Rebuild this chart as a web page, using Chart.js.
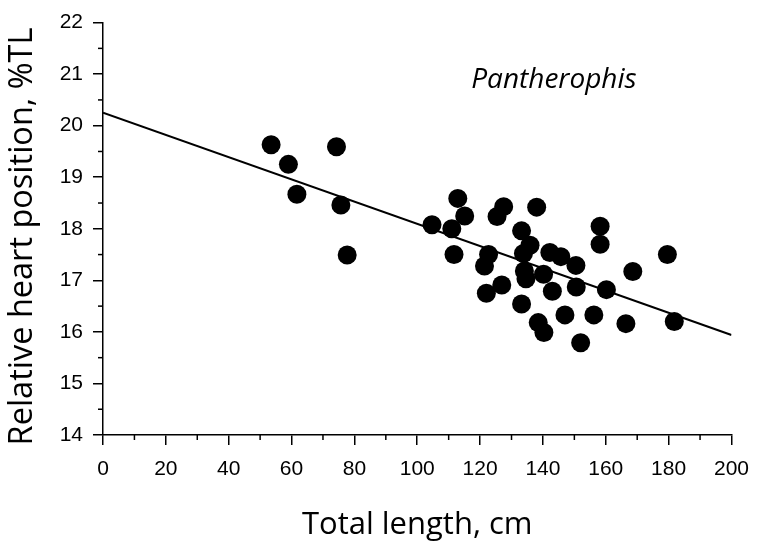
<!DOCTYPE html>
<html>
<head>
<meta charset="utf-8">
<script src="https://cdn.jsdelivr.net/npm/chart.js@4.4.1/dist/chart.umd.min.js"></script>
<style>
  html, body { margin: 0; padding: 0; background: #fff; }
  #grafico { display: block; }
</style>
</head>
<body>
<canvas id="grafico" width="761" height="551"></canvas>
<script>
// Dados (comprimento total em cm, posição relativa do coração em %TL)
const lengthCm = [
  53.5, 59.0, 61.7, 74.3, 75.7, 77.7,
  104.7, 111.0, 111.7, 112.9, 115.1, 121.4, 122.0, 122.7, 125.4, 127.5,
  126.9, 133.2, 133.2, 133.8, 134.1, 134.6, 135.9, 138.0, 138.5, 140.3,
  140.2, 142.2, 143.0, 145.7, 147.0, 150.5, 150.6, 152.0, 156.2, 158.2,
  158.2, 160.2, 166.4, 168.6, 179.6, 181.8
];
const heartPos = [
  19.63, 19.25, 18.67, 19.59, 18.46, 17.49,
  18.08, 18.00, 17.50, 18.59, 18.25, 17.28, 16.75, 17.50, 18.24, 18.43,
  16.91, 17.96, 16.54, 17.52, 17.18, 17.03, 17.68, 18.42, 16.18, 15.99,
  17.12, 17.54, 16.79, 17.46, 16.33, 17.29, 16.87, 15.79, 16.33, 18.05,
  17.70, 16.82, 16.16, 17.17, 17.50, 16.20
];

// Reta de regressão (extremos)
const fitX = [0, 200];
const fitY = [20.25, 15.94];

// Rótulos e limites dos eixos
const xTicks = [0, 20, 40, 60, 80, 100, 120, 140, 160, 180, 200];
const yTicks = [14, 15, 16, 17, 18, 19, 20, 21, 22];
const speciesLabel = 'Pantherophis';
const yTitle = 'Relative heart position, %TL';
const xTitle = 'Total length, cm';

const tickFont = { family: '"Liberation Sans", Arial, sans-serif', size: 21 };
const titleFont = { family: '"Open Sans", sans-serif', size: 31 };

// Desenha os traços menores entre os traços principais
const minorTicks = {
  id: 'minorTicks',
  afterDraw(chart) {
    const ctx = chart.ctx;
    ctx.save();
    ctx.strokeStyle = '#000';
    ctx.lineWidth = 1.5;
    const xs = chart.scales.x;
    for (let i = 0; i < xs.ticks.length - 1; i++) {
      const px = xs.getPixelForValue((xs.ticks[i].value + xs.ticks[i + 1].value) / 2);
      ctx.beginPath();
      ctx.moveTo(px, xs.top);
      ctx.lineTo(px, xs.top + 5);
      ctx.stroke();
    }
    const ys = chart.scales.y;
    for (let i = 0; i < ys.ticks.length - 1; i++) {
      const py = ys.getPixelForValue((ys.ticks[i].value + ys.ticks[i + 1].value) / 2);
      ctx.beginPath();
      ctx.moveTo(ys.right, py);
      ctx.lineTo(ys.right - 5, py);
      ctx.stroke();
    }
    ctx.restore();
  }
};

// Título do eixo Y e nome da espécie
const extraText = {
  id: 'extraText',
  afterDraw(chart) {
    const ctx = chart.ctx;
    ctx.save();
    ctx.fillStyle = '#000';
    ctx.textAlign = 'center';

    ctx.save();
    ctx.translate(23, 236.5);
    ctx.rotate(-Math.PI / 2);
    ctx.textBaseline = 'middle';
    ctx.font = '32.5px "Open Sans", sans-serif';
    ctx.fillText(yTitle, 0, 0);
    ctx.restore();

    ctx.font = 'italic 28px "Open Sans", sans-serif';
    ctx.textBaseline = 'alphabetic';
    ctx.fillText(speciesLabel, chart.scales.x.getPixelForValue(143.5), 88);
    ctx.restore();
  }
};

const ctx = document.getElementById('grafico').getContext('2d');
const chart = new Chart(ctx, {
  type: 'scatter',
  data: {
    datasets: [
      {
        label: 'dados',
        data: lengthCm.map((x, i) => ({ x, y: heartPos[i] })),
        backgroundColor: '#000',
        borderWidth: 0,
        pointRadius: 9.5,
        pointHoverRadius: 9.5
      },
      {
        label: 'ajuste',
        type: 'line',
        data: fitX.map((x, i) => ({ x, y: fitY[i] })),
        borderColor: '#000',
        borderWidth: 2,
        pointRadius: 0,
        fill: false
      }
    ]
  },
  options: {
    responsive: false,
    animation: false,
    layout: { padding: { top: 15, right: 24, left: 0, bottom: 0 } },
    plugins: {
      legend: { display: false },
      tooltip: { enabled: false }
    },
    scales: {
      x: {
        type: 'linear',
        min: xTicks[0],
        max: xTicks[xTicks.length - 1],
        afterBuildTicks: s => { s.ticks = xTicks.map(v => ({ value: v })); },
        afterFit: s => { s.height = 116; },
        ticks: { font: tickFont, color: '#000', padding: 12, maxRotation: 0 },
        grid: { drawOnChartArea: false, drawTicks: true, tickLength: 10, color: '#000', lineWidth: 1.5 },
        border: { display: true, color: '#000', width: 1.5 },
        title: { display: true, text: xTitle, font: titleFont, color: '#000', padding: { top: 0, bottom: 7 } }
      },
      y: {
        type: 'linear',
        min: yTicks[0],
        max: yTicks[yTicks.length - 1],
        afterBuildTicks: s => { s.ticks = yTicks.map(v => ({ value: v })); },
        afterFit: s => { s.width = 103; },
        ticks: { font: tickFont, color: '#000', padding: 10 },
        grid: { drawOnChartArea: false, drawTicks: true, tickLength: 10, color: '#000', lineWidth: 1.5 },
        border: { display: true, color: '#000', width: 1.5 },
        title: { display: false }
      }
    }
  },
  plugins: [minorTicks, extraText]
});
</script>
</body>
</html>
